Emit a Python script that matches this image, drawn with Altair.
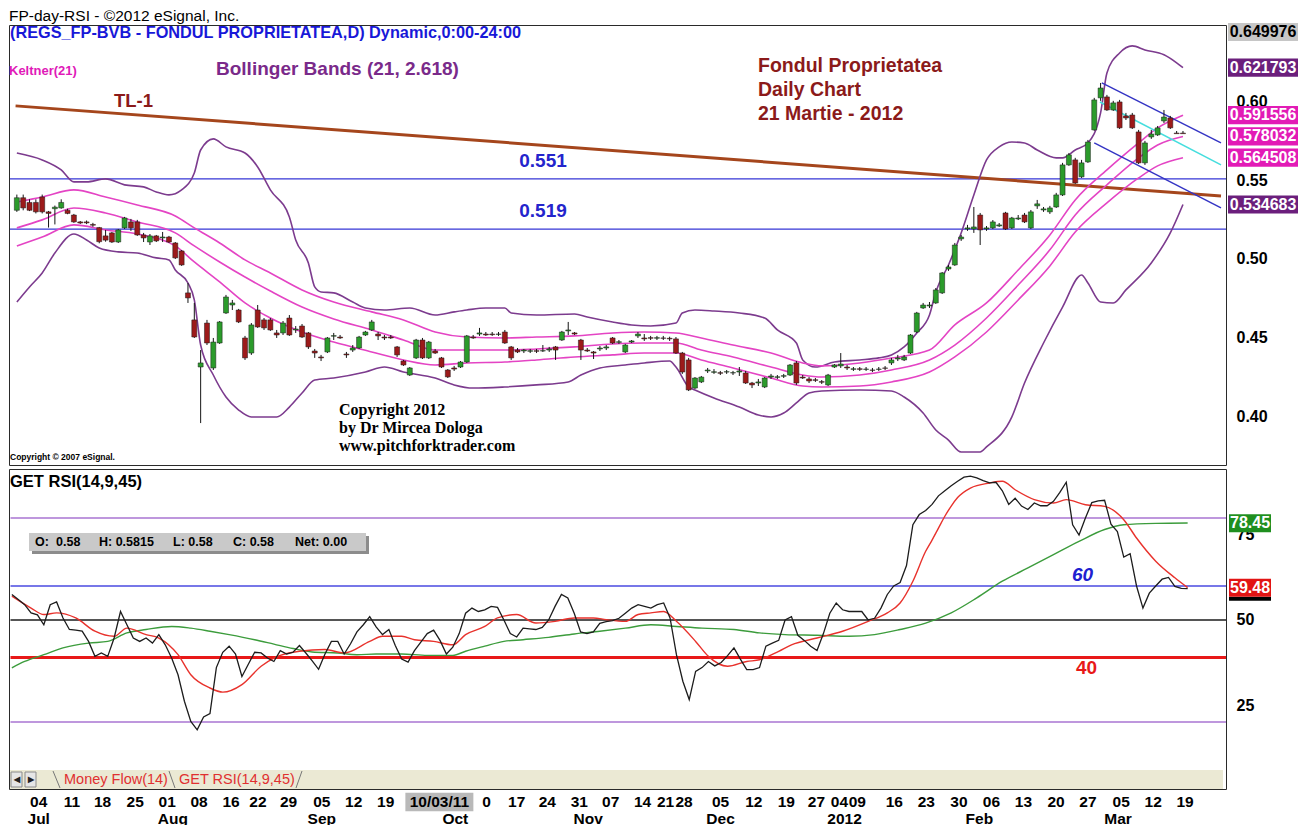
import altair as alt
import pandas as pd

SANS = "Liberation Sans, Arial, sans-serif"
SERIF = "Liberation Serif, Times New Roman, serif"

# ---------------- price data: daily bars (index 0 = first bar, late Jun 2011) ----------------
OPEN = [
    .531, .539, .536, .536, .5395, .530, .532, .5325, .531, .528,
    .5236, .5236, .5220, .520, .5147, .5166, .5108, .5198, .5236, .5236,
    .5153, .5108, .5147, .5134, .514, .5102, .5051, .4784, .4612, .4312,
    .4592, .4306, .4465, .4656, .4707, .4675, .4497, .4401, .4675, .4612,
    .4612, .4529, .4529, .4624, .4548, .4573, .4529, .4414, .4376, .4408,
    .4508, .4503, .4395, .442, .4433, .4516, .4548, .4522, .4503, .4503,
    .444, .435, .4261, .437, .4484, .437, .4414, .437, .4293, .4306,
    .4312, .4344, .4503, .4522, .4522, .4522, .4520, .4535, .444, .442,
    .4414, .4412, .4416, .4414, .442, .444, .4484, .4542, .4529, .4484,
    .442, .4408, .4427, .4433, .4497, .4469, .4408, .4471, .451, .4497,
    .4499, .4495, .4497, .4495, .4491, .4401, .4357, .4178, .4217, .4287,
    .4278, .4276, .428, .4274, .428, .4274, .421, .421, .4185, .4248,
    .4246, .4253, .4261, .4338, .4248, .4236, .4231, .4219, .4198, .4312,
    .4319, .4312, .4297, .4301, .4297, .4293, .4297, .4306, .4338, .4363,
    .4357, .4401, .4535, .4688, .4701, .472, .4784, .4936, .4962, .5128,
    .5191, .5191, .528, .5191, .5198, .521, .5293, .5198, .5255, .528,
    .5198, .5338, .5312, .530, .5331, .5408, .5599, .5631, .5523, .5618,
    .5822, .6026, .6032, .5949, .600, .5911, .5917, .5809, .5612, .5777,
    .579, .5879, .5898, .5802, .5802]
HIGH = [
    .541, .541, .538, .538, .541, .5306, .534, .538, .532, .5287,
    .5242, .5245, .5230, .5204, .5185, .5172, .5191, .5268, .5255, .5249,
    .5166, .5159, .5153, .5172, .5147, .5108, .5057, .4847, .472, .442,
    .4612, .4497, .4605, .4771, .4739, .4682, .451, .4592, .4707, .4624,
    .4624, .4548, .4605, .4643, .4573, .4586, .4535, .4427, .4389, .4503,
    .4529, .4516, .4408, .4452, .451, .4542, .4612, .4535, .4516, .4516,
    .4446, .4357, .4312, .4491, .4497, .4478, .4427, .4376, .4299, .4319,
    .435, .4516, .4516, .4561, .4535, .4535, .4535, .4548, .4446, .4433,
    .4427, .4427, .4427, .4452, .444, .4446, .4542, .4599, .4535, .4491,
    .4433, .4414, .4446, .4452, .4503, .4484, .4459, .4484, .4535, .4522,
    .4510, .4510, .4510, .4505, .4503, .4408, .437, .4248, .4255, .4306,
    .4299, .4287, .4293, .4287, .4312, .4287, .4217, .4236, .4248, .4268,
    .4261, .4268, .4331, .435, .4261, .4248, .4242, .4229, .4268, .4331,
    .4401, .4325, .4312, .4312, .4312, .4306, .4312, .4318, .437, .4389,
    .4389, .4522, .4663, .472, .4726, .4815, .4917, .4962, .5102, .5153,
    .5217, .5331, .5293, .521, .5248, .5229, .530, .5268, .528, .5293,
    .5312, .5376, .5331, .5338, .5421, .5612, .5675, .5644, .5631, .5758,
    .6026, .6121, .6045, .6007, .6013, .593, .593, .5822, .5752, .5822,
    .5847, .5949, .5911, .5815, .5815]
LOW = [
    .530, .531, .5305, .529, .529, .520, .522, .532, .5285, .523,
    .5223, .5222, .5205, .510, .511, .5102, .5102, .5191, .5179, .5147,
    .5108, .5089, .5108, .5108, .5102, .500, .4956, .472, .4497, .3955,
    .4452, .4293, .4459, .465, .4675, .4592, .4357, .4389, .4561, .4548,
    .4542, .4497, .4516, .451, .4529, .4497, .4427, .437, .435, .4401,
    .4484, .4491, .437, .4408, .4427, .451, .4542, .4484, .4484, .4491,
    .4376, .4319, .4255, .4363, .4363, .4363, .4395, .4306, .4242, .4287,
    .4306, .4338, .4491, .451, .451, .451, .451, .4459, .4357, .4401,
    .4401, .4401, .4401, .4408, .4408, .4357, .4478, .4516, .4516, .4357,
    .4408, .4363, .4414, .442, .4459, .4459, .4401, .4465, .4497, .4478,
    .4484, .4484, .4484, .4478, .4395, .4268, .4159, .4172, .421, .4274,
    .4268, .4261, .4268, .4261, .4255, .4204, .4178, .4191, .4178, .4236,
    .4236, .4242, .4255, .4198, .4236, .421, .4217, .4204, .4191, .4306,
    .4306, .4293, .4287, .4287, .4287, .4280, .4287, .4293, .4325, .435,
    .435, .4395, .4529, .4682, .4688, .4714, .4777, .4924, .4956, .5115,
    .5179, .5166, .5089, .5179, .5191, .5204, .5185, .5191, .5248, .5229,
    .5191, .5319, .530, .5287, .5325, .5401, .5593, .5478, .5516, .5612,
    .5816, .6007, .5943, .5943, .5828, .5885, .5828, .5605, .5599, .5765,
    .5784, .5866, .5828, .5800, .5800]
CLOSE = [
    .539, .5325, .531, .530, .530, .529, .533, .536, .529, .5236,
    .5229, .5230, .5215, .511, .512, .5108, .5185, .5261, .5198, .5153,
    .5134, .5147, .5115, .514, .5108, .5007, .4962, .4752, .4503, .4338,
    .4465, .4471, .4599, .4758, .472, .4599, .437, .458, .4567, .4561,
    .4548, .4516, .4592, .4516, .4554, .4503, .444, .4401, .437, .4497,
    .4512, .4497, .4389, .4433, .4503, .4535, .4599, .451, .4497, .4497,
    .4389, .4325, .4306, .4484, .437, .4471, .4401, .4312, .4249, .4299,
    .4344, .451, .4497, .4529, .4516, .4518, .4522, .4465, .437, .4408,
    .442, .4416, .4412, .4416, .4427, .442, .4535, .4548, .4522, .442,
    .4414, .4401, .4433, .444, .4465, .4473, .4452, .4478, .4522, .4491,
    .4495, .4499, .4495, .4491, .4401, .428, .4166, .4242, .4248, .4293,
    .4282, .4272, .4282, .4276, .4287, .421, .4198, .4217, .4242, .4255,
    .4250, .4257, .4325, .421, .4242, .4223, .4227, .4215, .4261, .4325,
    .4331, .4306, .4301, .4297, .4299, .4291, .4299, .4304, .4357, .437,
    .4376, .4516, .4656, .4707, .4707, .4803, .4911, .4949, .5089, .514,
    .5198, .5204, .5185, .5198, .5236, .5217, .5191, .5261, .5261, .5236,
    .530, .5351, .5319, .5325, .5408, .5599, .5663, .5484, .5612, .5745,
    .6013, .6089, .5949, .5994, .5835, .5898, .5835, .5612, .5739, .5796,
    .5835, .5904, .5835, .5798, .5798]

# Bollinger Bands (21, 2.618)
BB_UP_I = [0, 4, 7, 9, 11, 14, 17, 20, 22, 24, 26, 28, 29, 31, 33, 36, 38, 40, 43, 44, 46, 47, 48, 50,
           53, 55, 58, 62, 66, 69, 71, 74, 77, 78, 82, 88, 90, 94, 97, 100, 104, 105, 107, 110, 114,
           118, 120, 123, 124, 126, 129, 133, 136, 138, 140, 142, 144, 145, 147, 149, 151, 153, 155,
           157, 159, 161, 164, 165, 167, 169, 171, 172, 174, 176, 178, 181, 183, 184]
BB_UP_P = [.5675, .5631, .5567, .5491, .5491, .5510, .5472, .5459, .5427, .5408, .5440, .5548, .5694,
           .5765, .5714, .5675, .5586, .5440, .5268, .5121, .4975, .4822, .4790, .4784, .4726, .4688,
           .4675, .4688, .4643, .4663, .4675, .4688, .4688, .4656, .4643, .4650, .4631, .4599, .4580,
           .4573, .4592, .4656, .4675, .4669, .4656, .4624, .4548, .4465, .4357, .4312, .4344, .4357,
           .4370, .4389, .4440, .4529, .4643, .4790, .4962, .5166, .5408, .5631, .5714, .5745, .5739,
           .5694, .5644, .5644, .5694, .5739, .5930, .6185, .6312, .6357, .6331, .6300, .6249, .6218]
BB_LO_I = [0, 2, 4, 6, 9, 11, 13, 16, 19, 22, 24, 25, 27, 28, 29, 31, 33, 35, 37, 41, 43, 45, 47, 50,
           55, 58, 61, 66, 69, 72, 77, 82, 87, 89, 92, 96, 99, 103, 104, 106, 107, 110, 114, 117, 119,
           121, 123, 125, 127, 133, 138, 140, 143, 145, 147, 149, 152, 153, 157, 159, 162, 165, 168,
           169, 171, 173, 175, 179, 182, 184]
BB_LO_P = [.4726, .4822, .4911, .5038, .5159, .5121, .5070, .5045, .5038, .5007, .4994, .4930, .4847,
           .4739, .4452, .4261, .4121, .4038, .3994, .3994, .4057, .4147, .4229, .4242, .4280, .4312,
           .4280, .4242, .4198, .4178, .4185, .4198, .4217, .4261, .4306, .4325, .4338, .4350, .4312,
           .4185, .4166, .4115, .4057, .4006, .3994, .4019, .4083, .4147, .4159, .4166, .4159, .4121,
           .4019, .3911, .3847, .3771, .3771, .3803, .3994, .4210, .4465, .4694, .4898, .4847, .4726,
           .4720, .4803, .4975, .5166, .5347]

# Keltner(21) channel
KC_I = [0, 4, 9, 14, 19, 25, 28, 32, 36, 40, 45, 50, 56, 61, 66, 71, 77, 82, 88, 94, 99, 104, 108,
        113, 119, 124, 127, 133, 138, 144, 148, 153, 158, 163, 167, 172, 177, 180, 184]
KC_UP = [.5363, .5395, .5440, .5395, .5344, .5274, .5198, .5102, .4994, .4911, .4803, .4726, .4663,
         .4612, .4535, .4503, .4497, .4503, .4510, .4529, .4535, .4529, .4497, .4452, .4401, .4338,
         .4319, .4338, .4369, .4420, .4580, .4720, .4930, .5153, .5376, .5567, .5739, .5835, .5916]
KC_MID = [.5198, .5249, .5325, .5293, .5236, .5166, .5083, .4981, .4885, .4796, .4694, .4618, .4548,
          .4484, .4420, .4420, .4420, .4427, .4440, .4459, .4465, .4465, .4420, .4376, .4312, .4261,
          .4248, .4261, .4293, .4357, .4452, .4624, .4834, .5058, .5280, .5472, .5644, .5726, .5780]
KC_LO = [.5083, .5140, .5217, .5185, .5159, .5083, .4981, .4854, .4720, .4624, .4535, .4471, .4408,
         .4357, .4325, .4338, .4344, .4357, .4376, .4389, .4401, .4401, .4357, .4306, .4242, .4191,
         .4185, .4191, .4217, .4280, .4376, .4535, .4739, .4956, .5172, .5357, .5516, .5593, .5645]

# Trend line, support lines and the pitchfork
HLINES = [0.551, 0.519]
HLINE_TXT = ["0.551", "0.519"]
TL1_I = [-0.2, 190.0]
TL1_P = [0.5975, 0.5401]
PF_UP_I = [171.2, 190.0]
PF_UP_P = [0.6121, 0.5739]
PF_MED_I = [170.9, 190.0]
PF_MED_P = [0.6000, 0.5599]
PF_LO_I = [170.0, 190.0]
PF_LO_P = [0.5739, 0.5325]

PRICE_TICKS = [0.40, 0.45, 0.50, 0.55, 0.60]
SCALE_TOP = [0.649976]
BB_END = [0.621793, 0.534683]
KC_END = [0.591556, 0.578032, 0.564508]

# ---------------- RSI panel ----------------
RSI = [57.5, 56, 54.5, 52.1, 51.5, 48.6, 54.5, 55.3, 50.6, 47.2,
       47, 46.7, 43.7, 39.3, 40.3, 39.3, 44.7, 52.5, 48.6, 44.7,
       43.7, 44.7, 43.2, 45.7, 42.7, 38.8, 33.9, 26.1, 20.2, 17.7,
       21.5, 22.5, 36, 40.5, 42.3, 40, 33.4, 37, 40.5, 40.3,
       38.8, 37.8, 41, 40, 40.5, 42.5, 40.3, 38, 35.5, 40,
       43.7, 43.7, 40, 43, 46.5, 48.6, 51, 48, 45.7, 47.2,
       42.5, 38.5, 37.6, 41, 43.5, 46, 47, 44, 40, 42,
       46, 52, 53.5, 52.5, 53, 54, 53.7, 50, 46, 45,
       47.6, 47.4, 47.2, 47.8, 50, 54, 57.5, 56.5, 52, 46.5,
       46, 46.5, 49, 49.5, 49.8, 50.5, 52, 53.5, 54.5, 54,
       53.5, 54.5, 55, 50.6, 39.8, 32, 26.6, 34.9, 36, 37.8,
       36.5, 37.5, 39.5, 41.8, 38.5, 35.4, 35.4, 36, 42.3, 43.2,
       44, 50, 51, 45.5, 44, 42.3, 41, 46, 52, 55,
       53, 52.5, 52.5, 52.5, 50, 50.5, 53.5, 57.5, 60, 61,
       66, 78, 81, 82.2, 84, 86.5, 88, 89.5, 90.8, 92,
       92.3, 91.8, 91, 90.3, 90.5, 88, 84, 85.8, 83.5, 82.5,
       84.4, 83.6, 83.6, 84.9, 87.5, 90.5, 78, 75, 80, 84.5,
       85, 85.2, 78.2, 76, 68.5, 69.5, 60, 53.5, 57.9, 60,
       62, 62.5, 59.9, 59.3, 59.2]
SIG_I = [0, 3, 5, 7, 10, 13, 16, 18, 21, 23, 26, 28, 31, 33, 36, 39, 41, 45, 49, 52, 56, 58, 61, 63,
         66, 69, 71, 74, 76, 79, 82, 85, 88, 91, 93, 96, 98, 100, 102, 104, 107, 109, 112, 115, 117,
         120, 122, 126, 130, 134, 137, 139, 141, 143, 144, 145, 146, 147, 148, 150, 153, 155, 157,
         160, 163, 165, 168, 171, 174, 176, 179, 182, 184]
SIG = [57.0, 53.5, 51.6, 52.1, 50.6, 46.7, 45.2, 47.6, 45.7, 44.7, 39.8, 33.9, 30.0, 28.8, 31.0,
       36.4, 38.8, 40.8, 41.3, 40.3, 43.7, 45.2, 45.2, 44.2, 43.7, 42.7, 45.7, 48.1, 50.6, 51.6,
       49.1, 49.6, 50.6, 50.6, 50.1, 49.6, 51.6, 52.1, 52.5, 49.6, 43.7, 39.3, 36.4, 37.8, 38.3,
       40.8, 42.7, 44.7, 46.7, 49.6, 52.1, 55.0, 61.4, 70.2, 73.5, 77.0, 80.5, 83.5, 86.0, 88.8,
       90.3, 90.8, 88.3, 85.4, 84.4, 85.4, 83.9, 83.4, 79.5, 74.1, 67.3, 62.4, 59.5]
MA45_I = [0, 2, 5, 8, 12, 15, 18, 21, 25, 28, 31, 34, 38, 41, 44, 47, 51, 54, 57, 61, 65, 69, 71,
          74, 77, 80, 84, 88, 92, 96, 100, 104, 108, 113, 117, 121, 126, 131, 135, 139, 143, 147,
          151, 155, 159, 163, 167, 171, 174, 179, 184]
MA45 = [35.9, 37.8, 39.8, 41.8, 43.2, 43.7, 46.2, 47.2, 48.1, 47.6, 46.7, 45.7, 44.2, 42.9, 41.6,
        40.6, 40.3, 39.8, 40.0, 40.0, 39.6, 39.6, 40.8, 42.3, 43.7, 44.2, 44.9, 45.9, 46.7, 47.6,
        48.6, 48.1, 47.6, 47.2, 46.2, 45.7, 45.5, 45.2, 45.7, 47.2, 49.1, 52.1, 56.5, 61.4, 65.3,
        69.2, 73.1, 76.6, 78.0, 78.4, 78.5]
LVL_OUTER = [80, 20]
LVL_60 = [60]
LVL_50 = [50]
LVL_40 = [39]
RSI_TICKS = [25, 50, 75]
MA45_END = [78.45]
SIG_END = [59.48]

# ---------------- time axis labels (bar index positions) ----------------
DAY_I = [4.2, 9.4, 14.2, 19.3, 24.3, 29.3, 34.3, 38.5, 43.3, 48.5, 53.5, 58.5, 66.9, 74.3, 79.0,
         83.8, 88.8, 93.7, 98.7, 102.3, 105.2, 110.9, 116.1, 121.2, 125.9, 129.5, 132.3, 138.1,
         143.1, 148.2, 153.3, 158.3, 163.4, 168.4, 173.6, 178.6, 183.6]
DAY_TXT = ["04", "11", "18", "25", "01", "08", "16", "22", "29", "05", "12", "19", "10/03/11", "0",
           "17", "24", "31", "07", "14", "21", "28", "05", "12", "19", "27", "04", "09", "16", "23",
           "30", "06", "13", "20", "27", "05", "12", "19"]
MON_I = [4.2, 25.2, 48.5, 69.4, 90.2, 110.9, 130.3, 151.4, 173.1]
MON_TXT = ["Jul", "Aug", "Sep", "Oct", "Nov", "Dec", "2012", "Feb", "Mar"]

# ---------------- scales / helpers ----------------
W, HP, HR = 1217, 440, 320
XS = alt.Scale(domain=[-0.45, 190.0], nice=False, zero=False)
PS = alt.Scale(domain=[0.3688, 0.6490], nice=False, zero=False)
RS = alt.Scale(domain=[0.3, 94.4], nice=False, zero=False)
AX = dict(orient="right", ticks=False, domain=False, grid=False, labelPadding=10,
          labelFontSize=16, labelFontWeight="bold", labelColor="#000", labelFont=SANS,
          labelAlign="left", labelBaseline="middle", title=None)
P_AXIS = alt.Axis(values=PRICE_TICKS, format=".2f", **AX)
R_AXIS = alt.Axis(values=RSI_TICKS, format="d", **AX)
ONE = pd.DataFrame({"_": [0]})


def xq(f="i"):
    return alt.X(f + ":Q", scale=XS, axis=None)


def yp(f):
    return alt.Y(f + ":Q", scale=PS, axis=P_AXIS)


def yr(f):
    return alt.Y(f + ":Q", scale=RS, axis=R_AXIS)


def note(txt, x, y, size, color, weight="bold", align="left", font=SANS, style="normal"):
    return alt.Chart(ONE).mark_text(text=txt, align=align, baseline="middle", fontSize=size,
                                    fontWeight=weight, color=color, font=font,
                                    fontStyle=style).encode(x=alt.value(x), y=alt.value(y))


def box(x1, x2, y1, y2, fill, stroke=None):
    kw = dict(fill=fill)
    if stroke:
        kw.update(stroke=stroke, strokeWidth=1)
    return alt.Chart(ONE).mark_rect(**kw).encode(x=alt.value(x1), x2=alt.value(x2),
                                                 y=alt.value(y1), y2=alt.value(y2))


def seg(x1, y1, x2, y2, color, w=1):
    return alt.Chart(ONE).mark_rule(color=color, strokeWidth=w).encode(
        x=alt.value(x1), x2=alt.value(x2), y=alt.value(y1), y2=alt.value(y2))


def ln(i, p, key):
    return pd.DataFrame({"i": i, "p": p, "k": key})


# ---------------- price panel ----------------
cdf = pd.DataFrame({"i": list(range(len(CLOSE))), "o": OPEN, "h": HIGH, "l": LOW, "c": CLOSE})

hrules = alt.Chart(pd.DataFrame({"p": HLINES})).mark_rule(color="#3636d6", strokeWidth=1.2).encode(
    y=yp("p"), x=alt.value(1), x2=alt.value(W))
hl_txt = alt.Chart(pd.DataFrame({"p": HLINES, "t": HLINE_TXT})).mark_text(
    fontSize=19, fontWeight="bold", color="#2424cc", font=SANS, dy=-18).encode(
    x=alt.value(534), y=yp("p"), text="t:N")
tl1 = alt.Chart(ln(TL1_I, TL1_P, "tl")).mark_line(color="#a5461c", strokeWidth=3).encode(x=xq(), y=yp("p"))

bb_df = pd.concat([ln(BB_UP_I, BB_UP_P, "up"), ln(BB_LO_I, BB_LO_P, "lo")])
bb = alt.Chart(bb_df).mark_line(color="#7c3b8e", strokeWidth=1.6, interpolate="monotone").encode(
    x=xq(), y=yp("p"), detail="k:N")
kc_df = pd.concat([ln(KC_I, KC_UP, "up"), ln(KC_I, KC_MID, "mid"), ln(KC_I, KC_LO, "lo")])
kc = alt.Chart(kc_df).mark_line(color="#e444c4", strokeWidth=1.6, interpolate="monotone").encode(
    x=xq(), y=yp("p"), detail="k:N")

pf_blue = alt.Chart(pd.concat([ln(PF_UP_I, PF_UP_P, "u"), ln(PF_LO_I, PF_LO_P, "l")])).mark_line(
    color="#3434c4", strokeWidth=1.4).encode(x=xq(), y=yp("p"), detail="k:N")
pf_med = alt.Chart(ln(PF_MED_I, PF_MED_P, "m")).mark_line(color="#46dede", strokeWidth=1.6).encode(
    x=xq(), y=yp("p"))

wicks = alt.Chart(cdf).mark_rule(color="#151515", strokeWidth=1).encode(x=xq(), y=yp("l"), y2="h:Q")
bodies = alt.Chart(cdf).mark_bar(size=5, stroke="#1a1a1a", strokeWidth=0.5).encode(
    x=xq(), y=yp("o"), y2="c:Q",
    color=alt.condition("datum.c >= datum.o", alt.value("#2b9b2b"), alt.value("#9c1a1a")))

RECT = "M-1,-0.26H1V0.26H-1Z"
top_bg = alt.Chart(pd.DataFrame({"p": SCALE_TOP})).mark_point(
    shape=RECT, size=4900, filled=True, opacity=1, color="#c6c6c6").encode(x=alt.value(1254), y=alt.value(7))
top_tx = alt.Chart(pd.DataFrame({"p": SCALE_TOP})).mark_text(
    fontSize=16, fontWeight="bold", font=SANS, color="#000").encode(
    x=alt.value(1254), y=alt.value(7), text=alt.Text("p:Q", format=".6f"))


def end_boxes(vals, bg, fg, yfun, xc, shape, size, fmt):
    d = pd.DataFrame({"v": vals})
    b = alt.Chart(d).mark_point(shape=shape, size=size, filled=True, opacity=1, color=bg).encode(
        x=alt.value(xc), y=yfun("v"))
    t = alt.Chart(d).mark_text(fontSize=16, fontWeight="bold", font=SANS, color=fg).encode(
        x=alt.value(xc), y=yfun("v"), text=alt.Text("v:Q", format=fmt))
    return [b, t]


price_layers = [
    hrules, tl1, bb, kc, pf_blue, pf_med, wicks, bodies, hl_txt,
    note("(REGS_FP-BVB - FONDUL PROPRIETATEA,D) Dynamic,0:00-24:00", 1, 8, 16.3, "#1818d8"),
    note("Keltner(21)", 0, 46, 13, "#e01ab8"),
    note("Bollinger Bands (21, 2.618)", 207, 44, 19, "#7a2a8a"),
    note("TL-1", 105, 76, 18.5, "#8b1a1a"),
    note("Fondul Proprietatea", 749, 41, 19.5, "#8b1a1a"),
    note("Daily Chart", 749, 65, 19.5, "#8b1a1a"),
    note("21 Martie -  2012", 749, 89, 19.5, "#8b1a1a"),
    note("Copyright 2012", 330, 385, 16, "#000", font=SERIF),
    note("by Dr Mircea Dologa", 330, 403, 16, "#000", font=SERIF),
    note("www.pitchforktrader.com", 330, 421, 16, "#000", font=SERIF),
    note("Copyright \u00a9 2007 eSignal.", 1, 432, 8.5, "#000"),
    top_bg, top_tx,
] + end_boxes(BB_END, "#6b1f7c", "#fff", yp, 1254, RECT, 4900, ".6f") \
  + end_boxes(KC_END, "#e21bb6", "#fff", yp, 1254, RECT, 4900, ".6f")

price = alt.layer(*price_layers).properties(
    width=W, height=HP,
    title=alt.TitleParams("FP-day-RSI - \u00a92012 eSignal, Inc.", anchor="start", fontSize=15.5,
                          fontWeight="normal", font=SANS, color="#000", offset=-2))

# ---------------- RSI panel ----------------
def lvl(vals, color, w):
    return alt.Chart(pd.DataFrame({"v": vals})).mark_rule(color=color, strokeWidth=w).encode(
        y=yr("v"), x=alt.value(1.5), x2=alt.value(W))


rsi_df = pd.DataFrame({"i": list(range(len(RSI))), "v": RSI})
rsi_line = alt.Chart(rsi_df).mark_line(color="#1c1c1c", strokeWidth=1.3).encode(x=xq(), y=yr("v"))
sig_line = alt.Chart(pd.DataFrame({"i": SIG_I, "v": SIG})).mark_line(
    color="#e8322c", strokeWidth=1.4, interpolate="monotone").encode(x=xq(), y=yr("v"))
ma_line = alt.Chart(pd.DataFrame({"i": MA45_I, "v": MA45})).mark_line(
    color="#3c9c3c", strokeWidth=1.4, interpolate="monotone").encode(x=xq(), y=yr("v"))

RBOX = "M-1,-0.43H1V0.43H-1Z"
RBAR = "M-1,0.43H1V0.62H-1Z"
sig_bar = alt.Chart(pd.DataFrame({"v": SIG_END})).mark_point(
    shape=RBAR, size=1764, filled=True, opacity=1, color="#000").encode(x=alt.value(1241), y=yr("v"))

day_df = pd.DataFrame({"i": DAY_I, "t": DAY_TXT})
mon_df = pd.DataFrame({"i": MON_I, "t": MON_TXT})
hl_day = pd.DataFrame({"i": [DAY_I[DAY_TXT.index("10/03/11")]]})
day_box = alt.Chart(hl_day).mark_point(shape="M-1,-0.27H1V0.27H-1Z", size=4624, filled=True,
                                       opacity=1, color="#b9b9b9").encode(x=xq(), y=alt.value(333))
day_txt = alt.Chart(day_df).mark_text(fontSize=15.5, fontWeight="bold", font=SANS, color="#000").encode(
    x=xq(), y=alt.value(333), text="t:N")
mon_txt = alt.Chart(mon_df).mark_text(fontSize=15.5, fontWeight="bold", font=SANS, color="#000").encode(
    x=xq(), y=alt.value(350), text="t:N")

rsi_layers = [
    box(1, W - 3, 301, 320, "#ebe9d4"),
    box(2, 13, 303, 318, "#e6e6e6", "#8a8a8a"),
    box(16, 27, 303, 318, "#e6e6e6", "#8a8a8a"),
    note("\u25c0", 7.5, 311, 8, "#222", align="center"),
    note("\u25b6", 21.5, 311, 8, "#222", align="center"),
    seg(44, 302, 51, 319, "#777"), seg(160, 302, 166, 319, "#777"), seg(287, 319, 293, 302, "#777"),
    note("Money Flow(14)", 55, 311, 14.5, "#e03030", weight="normal"),
    note("GET RSI(14,9,45)", 170, 311, 14.5, "#e03030", weight="normal"),
    lvl(LVL_OUTER, "#a874d2", 1.5), lvl(LVL_60, "#4a4ae0", 1.5), lvl(LVL_50, "#555555", 2),
    lvl(LVL_40, "#e81818", 3),
    ma_line, sig_line, rsi_line,
    note("GET RSI(14,9,45)", 1, 13, 16.5, "#000"),
    box(23, 360, 67, 85, "#8c8c8c"),
    box(20, 357, 64, 82, "#c9c9c9"),
    note("O:", 26, 73, 12.5, "#000"), note("0.58", 47, 73, 12.5, "#000"),
    note("H: 0.5815", 90, 73, 12.5, "#000"), note("L:  0.58", 164, 73, 12.5, "#000"),
    note("C:  0.58", 224, 73, 12.5, "#000"), note("Net:  0.00", 286, 73, 12.5, "#000"),
    note("60", 1063, 106, 19, "#2020d0", style="italic"),
    note("40", 1067, 199, 19, "#e81818"),
    day_box, day_txt, mon_txt, sig_bar,
] + end_boxes(MA45_END, "#1f8f1f", "#fff", yr, 1241, RBOX, 1764, ".2f") \
  + end_boxes(SIG_END, "#e21414", "#fff", yr, 1241, RBOX, 1764, ".2f")

rsi = alt.layer(*rsi_layers).properties(width=W, height=HR)

chart = alt.vconcat(price, rsi, spacing=2).properties(
    padding={"left": 0, "top": 0, "right": 0, "bottom": 0}, background="#ffffff"
).configure_view(stroke="#2a2a2a", strokeWidth=1)

chart.save("out.html", embed_options={"renderer": "svg", "actions": False})
